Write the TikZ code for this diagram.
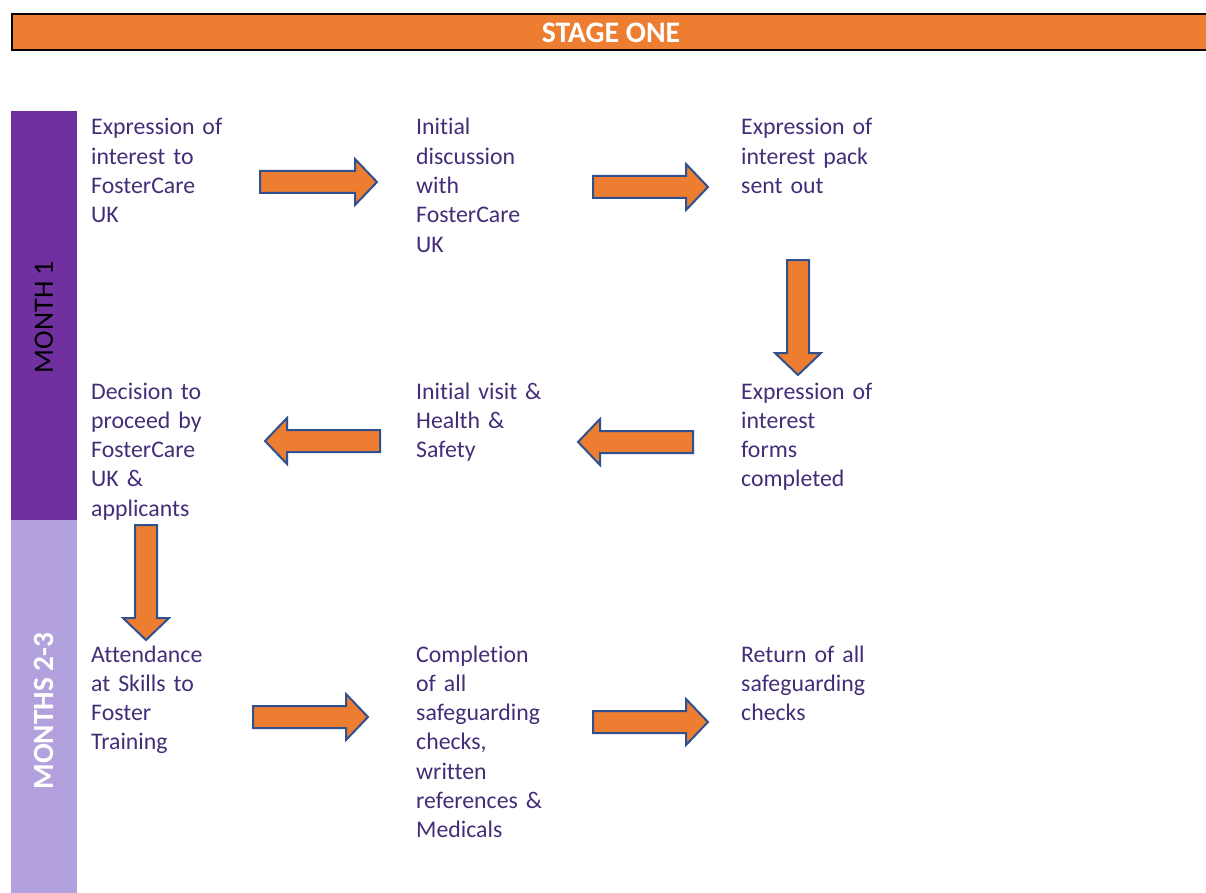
\documentclass[tikz,border=0pt]{standalone}
\usepackage{fontspec}
\setmainfont{Carlito}[RawFeature={-liga}]
\definecolor{hdrorange}{RGB}{237,125,49}
\definecolor{arrowblue}{RGB}{47,82,143}
\definecolor{darkpurple}{RGB}{112,48,160}
\definecolor{lightpurple}{RGB}{178,161,220}
\definecolor{txtpurple}{RGB}{68,45,120}
\tikzset{
  barrowstyle/.style={draw=arrowblue, fill=hdrorange, line width=2pt, line join=miter},
  pics/blockarrow/.style={code={
    \draw[barrowstyle] (0,-11) -- (#1-22,-11) -- (#1-22,-23) -- (#1,0) -- (#1-22,23) -- (#1-22,11) -- (0,11) -- cycle;}},
  txt/.style={anchor=base west, align=left, text width=190pt, inner sep=0pt,
    font=\fontsize{23.8}{29.3}\selectfont, text=txtpurple},
  month/.style={rotate=90, font=\fontsize{28}{32}\selectfont, inner sep=0pt}
}
\begin{document}
\begin{tikzpicture}[x=1pt,y=-1pt]
\useasboundingbox (0,0) rectangle (1206,893);
% header
\node[draw=black, line width=2pt, fill=hdrorange, minimum width=1200pt, minimum height=36pt, anchor=north west, inner sep=0pt] (hdr) at (11,13) {};
\node[text=white, font=\bfseries\fontsize{29.8}{32}\selectfont] (hdrtxt) at (611,33) {STAGE ONE};
% side bars
\fill[darkpurple] (11,111) rectangle (77,520);
\fill[lightpurple] (11,520) rectangle (77,893);
\node[month, text=black] (m1) at (44,317) {MONTH 1};
\node[month, text=white, font=\bfseries\fontsize{29.3}{32}\selectfont] (m2) at (44,711) {MONTHS 2-3};
% texts
\node[txt] (t1) at (91,135) {Expression of\\interest to\\FosterCare\\UK};
\node[txt] (t2) at (416,135) {Initial\\discussion\\with\\FosterCare\\UK};
\node[txt] (t3) at (741,135) {Expression of\\interest pack\\sent out};
\node[txt] (t4) at (741,399) {Expression of\\interest\\forms\\completed};
\node[txt] (t5) at (416,399) {Initial visit \&\\Health \&\\Safety};
\node[txt] (t6) at (91,399) {Decision to\\proceed by\\FosterCare\\UK \&\\applicants};
\node[txt] (t7) at (91,662) {Attendance\\at Skills to\\Foster\\Training};
\node[txt] (t8) at (416,662) {Completion\\of all\\safeguarding\\checks,\\written\\references \&\\Medicals};
\node[txt] (t9) at (741,662) {Return of all\\safeguarding\\checks};
% arrows
\pic (a1) at (260,182) {blockarrow=117};
\pic (a2) at (593,187) {blockarrow=115};
\pic[rotate=-90] (a3) at (798,260) {blockarrow=115};
\pic[rotate=180] (a4) at (380,441) {blockarrow=115};
\pic[rotate=180] (a5) at (693,442) {blockarrow=115};
\pic[rotate=-90] (a6) at (146,525) {blockarrow=115};
\pic (a7) at (253,717) {blockarrow=115};
\pic (a8) at (593,722) {blockarrow=115};
\end{tikzpicture}
\end{document}
